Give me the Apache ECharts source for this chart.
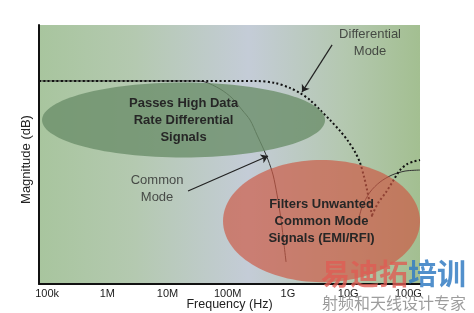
<!DOCTYPE html>
<html><head><meta charset="utf-8">
<script src="https://cdn.jsdelivr.net/npm/echarts@6/dist/echarts.min.js"></script>
<style>html,body{margin:0;padding:0;background:#fff;}#c{width:474px;height:313px;}</style>
</head><body><div id="c"></div>
<script>
// ---- data ----
const tickFreqs = [1e5, 1e6, 1e7, 1e8, 1e9, 1e10, 1e11];
const tickLabels = ['100k', '1M', '10M', '100M', '1G', '10G', '100G'];
const freqMin = 7.33e4, freqMax = 1.56e11;
const magMin = 0, magMax = 100;

// Differential mode (dotted)
const diffFreq = [7.33e4, 2.84e8, 6.11e8, 1.08e9, 1.59e9, 2.33e9, 3.41e9, 5.0e9, 7.33e9, 9.95e9, 1.30e10, 1.58e10, 1.84e10, 2.06e10, 2.31e10, 2.50e10];
const diffMag  = [78.4, 78.4, 77.6, 75.7, 73.7, 71.0, 67.2, 63.3, 59.1, 55.2, 51.0, 46.7, 41.3, 36.3, 30.5, 25.9];
const diffRiseFreq = [2.5e10, 3.14e10, 4.27e10, 5.57e10, 7.28e10, 9.52e10, 1.24e11, 1.56e11];
const diffRiseMag  = [26.6, 31.3, 35.5, 39.8, 44.0, 46.3, 47.3, 47.9];

// Common mode (solid)
const commFreq = [7.33e4, 2.88e7, 4.2e7, 7.45e7, 1.18e8, 1.73e8, 2.35e8, 3.07e8, 3.86e8, 4.68e8, 5.66e8, 6.6e8, 7.69e8, 8.62e8, 9.3e8];
const commMag  = [78.4, 78.4, 78.0, 75.3, 71.8, 67.2, 63.3, 57.5, 52.5, 47.9, 42.1, 34.4, 24.7, 15.1, 8.5];
const commRiseFreq = [1.46e10, 1.70e10, 2.31e10, 3.39e10, 5.36e10, 8.81e10, 1.56e11];
const commRiseMag  = [23.9, 29.7, 35.5, 39.4, 42.1, 43.6, 44.0];

// Regions (ellipses): centre frequency, centre magnitude, half-width (decades), half-height (dB)
const regionNames = ['Passes High Data\nRate Differential\nSignals', 'Filters Unwanted\nCommon Mode\nSignals (EMI/RFI)'];
const regionFreq = [1.845e7, 3.61e9];
const regionMag = [63.3, 24.3];
const regionHalfDecades = [2.35, 1.636];
const regionHalfMag = [14.5, 23.6];

// Callouts
const calloutNames = ['Differential\nMode', 'Common\nMode'];
const calloutFreq = [2.31e10, 6.70e6];
const calloutMag = [92.9, 36.7];
const arrowFrom = [[5.41e9, 92.3], [2.19e7, 35.9]];
const arrowTo = [[1.71e9, 74.1], [4.67e8, 49.4]];

const axisNameX = 'Frequency (Hz)';
const axisNameY = 'Magnitude (dB)';
const watermarkTop = ['易迪拓', '培训'];
const watermarkBottom = '射频和天线设计专家';

// ---- styles ----
const FONT = '"Liberation Sans", Arial, sans-serif';
const regionFill = ['rgba(108,142,106,0.8)', 'rgba(205,88,68,0.68)'];

const lf = Math.log10;
const pairs = (fs, ms) => fs.map((f, i) => [lf(f), ms[i]]);

const chart = echarts.init(document.getElementById('c'), null, {renderer: 'canvas'});
chart.setOption({
  animation: false,
  backgroundColor: '#ffffff',
  grid: {
    left: 39, right: 54, top: 25, bottom: 29, containLabel: false, outerBoundsMode: 'none',
    show: true, borderWidth: 0,
    backgroundColor: new echarts.graphic.LinearGradient(0, 0, 1, 0, [
      {offset: 0, color: '#a8c59e'},
      {offset: 0.25, color: '#b4c9b0'},
      {offset: 0.55, color: '#c4ccd7'},
      {offset: 0.8, color: '#b4c8b0'},
      {offset: 1, color: '#a3bf91'}
    ])
  },
  xAxis: {
    type: 'value', min: lf(freqMin), max: lf(freqMax),
    name: axisNameX, nameLocation: 'middle', nameGap: 14, nameMoveOverlap: false,
    nameTextStyle: {fontFamily: FONT, fontSize: 12.5, color: '#222'},
    axisLine: {show: true, onZero: false, lineStyle: {color: '#111', width: 2}},
    axisTick: {show: false},
    splitLine: {show: false},
    axisLabel: {
      customValues: tickFreqs.map(lf), margin: 4,
      fontFamily: FONT, fontSize: 11, color: '#222',
      formatter: v => {
        const i = tickFreqs.findIndex(f => Math.abs(lf(f) - v) < 1e-6);
        return i >= 0 ? tickLabels[i] : '';
      }
    }
  },
  yAxis: {
    type: 'value', min: magMin, max: magMax,
    name: axisNameY, nameLocation: 'middle', nameGap: 6, nameMoveOverlap: false,
    nameTextStyle: {fontFamily: FONT, fontSize: 13, color: '#222', padding: [0, 10, 0, 0]},
    axisLine: {show: true, lineStyle: {color: '#111', width: 2}},
    axisTick: {show: false},
    axisLabel: {show: false},
    splitLine: {show: false}
  },
  series: [
    {type: 'line', data: pairs(commFreq, commMag), showSymbol: false, smooth: 0.3, z: 2,
     lineStyle: {color: '#333', width: 1}},
    {type: 'line', data: pairs(commRiseFreq, commRiseMag), showSymbol: false, smooth: 0.3, z: 2,
     lineStyle: {color: '#333', width: 1}},
    {type: 'line', data: pairs(diffFreq, diffMag), showSymbol: false, smooth: 0.3, z: 3,
     lineStyle: {color: '#111', width: 2, type: [2, 2.4]}},
    {type: 'line', data: pairs(diffRiseFreq, diffRiseMag), showSymbol: false, smooth: 0.3, z: 3,
     lineStyle: {color: '#111', width: 2, type: [2, 2.4]}},
    {
      type: 'custom', z: 5, clip: true,
      data: regionFreq.map((f, i) => [lf(f), regionMag[i], regionHalfDecades[i], regionHalfMag[i]]),
      encode: {x: 0, y: 1},
      renderItem: (params, api) => {
        const i = params.dataIndex;
        const c = api.coord([api.value(0), api.value(1)]);
        const s = api.size([api.value(2), api.value(3)]);
        return {
          type: 'group',
          children: [
            {type: 'ellipse', shape: {cx: c[0], cy: c[1], rx: s[0], ry: s[1]}, style: {fill: regionFill[i]}},
            {type: 'text', x: c[0], y: c[1], style: {
              text: regionNames[i], fill: '#262626', fontFamily: FONT, fontSize: 13, fontWeight: 'bold',
              align: 'center', verticalAlign: 'middle', lineHeight: 17
            }}
          ]
        };
      }
    },
    {
      type: 'lines', coordinateSystem: 'cartesian2d', z: 8,
      symbol: ['none', 'arrow'], symbolSize: 7,
      lineStyle: {color: '#222', width: 1.2, opacity: 1, curveness: 0},
      data: arrowFrom.map((a, i) => ({coords: [[lf(a[0]), a[1]], [lf(arrowTo[i][0]), arrowTo[i][1]]]}))
    },
    {
      type: 'scatter', symbolSize: 0, z: 8, silent: true,
      data: calloutNames.map((n, i) => ({name: n, value: [lf(calloutFreq[i]), calloutMag[i]]})),
      label: {show: true, position: 'inside', formatter: '{b}', fontFamily: FONT, fontSize: 13,
        color: '#2a2a2a', lineHeight: 17, align: 'center', verticalAlign: 'middle'}
    }
  ],
  graphic: [
    {type: 'text', left: 321, top: 259, z: 20, silent: true, style: {
      text: '{r|' + watermarkTop[0] + '}{b|' + watermarkTop[1] + '}',
      rich: {
        r: {fontFamily: '"Noto Sans CJK SC"', fontSize: 29, fontWeight: 'bold', fill: 'rgba(222,92,84,0.8)', color: 'rgba(222,92,84,0.8)'},
        b: {fontFamily: '"Noto Sans CJK SC"', fontSize: 29, fontWeight: 'bold', fill: 'rgba(52,125,195,0.85)', color: 'rgba(52,125,195,0.85)'}
      }
    }},
    {type: 'text', left: 322, top: 295, z: 20, silent: true, style: {
      text: watermarkBottom, fontFamily: '"Noto Sans CJK SC"', fontSize: 16, fill: 'rgba(140,140,140,0.85)'
    }}
  ]
});
</script>
</body></html>
